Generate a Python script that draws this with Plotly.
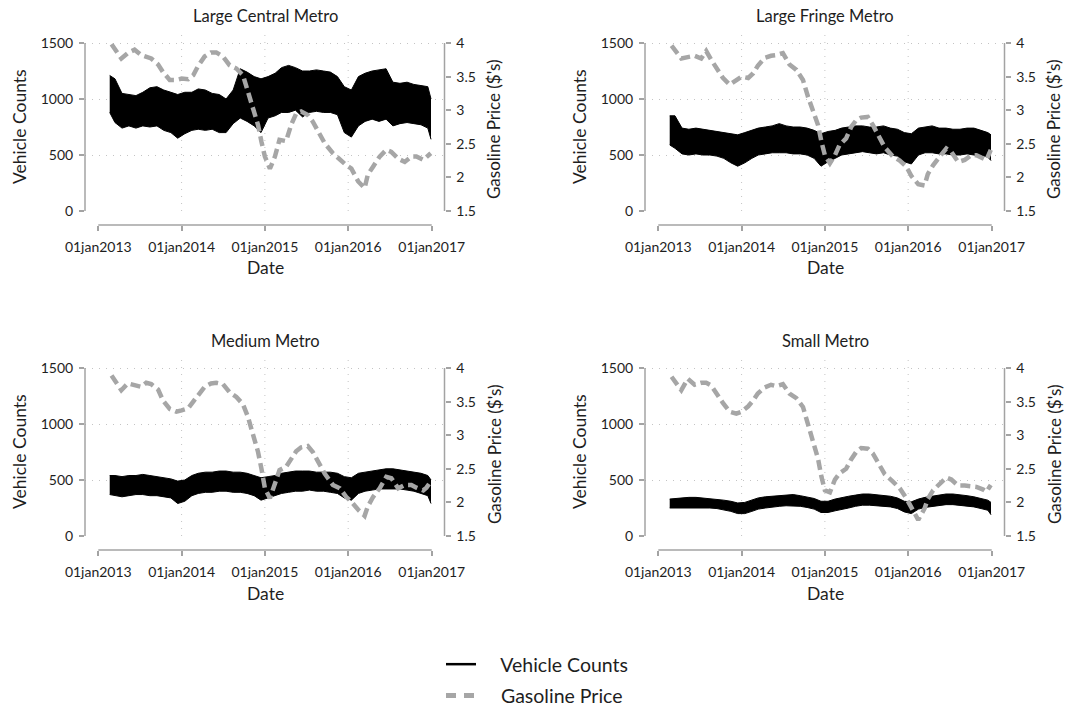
import pandas as pd
import plotly.graph_objects as go

# ---------------------------------------------------------------- data
PANEL_TITLES = ["Large Central Metro", "Large Fringe Metro", "Medium Metro", "Small Metro"]

TICK_DATES = ["2013-01-01", "2014-01-01", "2015-01-01", "2016-01-01", "2017-01-01"]
TICK_LABELS = ["01jan2013", "01jan2014", "01jan2015", "01jan2016", "01jan2017"]
COUNT_TICKS = [0, 500, 1000, 1500]
PRICE_TICKS = [1.5, 2, 2.5, 3, 3.5, 4]
PRICE_LABELS = ["1.5", "2", "2.5", "3", "3.5", "4"]

# daily vehicle counts summarised as a monthly band (upper / lower envelope)
COUNT_DATES = (
    ["2013-02-20"]
    + [f"{y}-{m:02d}-15" for y, m in
       [(2013, m) for m in range(3, 13)] + [(2014, m) for m in range(1, 13)]
       + [(2015, m) for m in range(1, 13)] + [(2016, m) for m in range(1, 13)]]
    + ["2016-12-29"]
)

lcm_upper = [1210, 1180, 1050, 1040, 1030, 1060, 1100, 1110, 1080, 1060, 1040,
             1060, 1060, 1090, 1080, 1050, 1040, 1000, 1080, 1270, 1240, 1200, 1180,
             1200, 1230, 1280, 1300, 1280, 1250, 1250, 1260, 1250, 1240, 1200, 1110,
             1080, 1200, 1230, 1250, 1260, 1270, 1150, 1140, 1150, 1130, 1120, 1110, 1000]
lcm_lower = [880, 790, 740, 760, 740, 760, 750, 760, 720, 700, 650,
             690, 720, 730, 720, 730, 700, 700, 780, 830, 800, 760, 700,
             830, 850, 880, 880, 900, 840, 880, 890, 880, 880, 860, 700,
             660, 760, 800, 820, 800, 820, 760, 780, 790, 780, 770, 740, 640]

lfm_upper = [850, 850, 740, 730, 740, 730, 720, 710, 700, 690, 680,
             700, 720, 740, 750, 760, 780, 760, 750, 750, 740, 720, 690,
             710, 720, 740, 750, 760, 760, 750, 750, 760, 740, 730, 700,
             690, 740, 750, 760, 740, 740, 730, 730, 740, 740, 720, 700, 680]
lfm_lower = [590, 560, 510, 500, 510, 500, 500, 490, 470, 430, 400,
             430, 470, 500, 510, 520, 520, 520, 510, 510, 500, 470, 400,
             440, 470, 500, 510, 520, 530, 520, 510, 520, 500, 490, 440,
             420, 500, 520, 520, 510, 510, 500, 500, 510, 500, 500, 480, 450]

mm_upper = [540, 540, 530, 540, 540, 550, 540, 530, 520, 510, 490,
            500, 540, 560, 570, 570, 580, 580, 570, 570, 560, 540, 520,
            530, 540, 560, 570, 580, 580, 580, 570, 570, 570, 560, 530,
            520, 560, 570, 580, 590, 600, 600, 590, 580, 570, 560, 540, 500]
mm_lower = [370, 360, 350, 360, 370, 370, 360, 360, 350, 340, 290,
            310, 360, 380, 390, 390, 400, 400, 390, 390, 380, 360, 320,
            340, 360, 380, 390, 400, 400, 410, 400, 400, 390, 380, 340,
            320, 380, 400, 410, 420, 420, 420, 420, 410, 400, 380, 360, 290]

sm_upper = [330, 335, 340, 345, 345, 340, 335, 330, 320, 310, 295,
            300, 320, 340, 350, 355, 365, 370, 370, 360, 350, 335, 310,
            310, 330, 345, 355, 365, 375, 375, 370, 365, 355, 340, 310,
            305, 330, 345, 355, 365, 375, 375, 370, 360, 350, 335, 320, 300]
sm_lower = [250, 250, 250, 255, 255, 255, 250, 245, 235, 220, 200,
            200, 220, 240, 250, 260, 265, 270, 270, 265, 255, 240, 210,
            210, 225, 240, 250, 265, 275, 275, 270, 265, 260, 245, 215,
            200, 240, 255, 265, 270, 280, 280, 275, 270, 260, 245, 230, 190]

# gasoline price ($ per gallon)
GAS_DATES = [
    "2013-02-28", "2013-04-12", "2013-05-10", "2013-06-09", "2013-07-08", "2013-07-30",
    "2013-08-21", "2013-09-20", "2013-10-11", "2013-11-10", "2013-12-09", "2014-01-01",
    "2014-01-30", "2014-02-21", "2014-03-13", "2014-04-12", "2014-05-10", "2014-06-02",
    "2014-07-01", "2014-07-30", "2014-08-29", "2014-09-27", "2014-10-19", "2014-11-10",
    "2014-12-02", "2014-12-17", "2015-01-01", "2015-01-23", "2015-02-14", "2015-03-06",
    "2015-04-04", "2015-04-26", "2015-05-18", "2015-06-09", "2015-07-08", "2015-07-30",
    "2015-08-21", "2015-09-20", "2015-10-26", "2015-11-25", "2015-12-24", "2016-01-15",
    "2016-02-14", "2016-03-13", "2016-03-27", "2016-04-19", "2016-05-18", "2016-06-16",
    "2016-07-08", "2016-08-07", "2016-09-05", "2016-10-04", "2016-10-26", "2016-11-25",
    "2016-12-09", "2016-12-28",
]

lcm_gas = [3.98, 3.77, 3.85, 3.90, 3.82, 3.80, 3.77, 3.68, 3.57, 3.45, 3.45, 3.47,
           3.46, 3.52, 3.65, 3.80, 3.86, 3.86, 3.80, 3.67, 3.62, 3.52, 3.28, 3.03,
           2.78, 2.53, 2.31, 2.13, 2.31, 2.56, 2.54, 2.78, 2.95, 2.98, 2.93, 2.83,
           2.68, 2.51, 2.36, 2.26, 2.18, 2.13, 1.94, 1.84, 2.04, 2.16, 2.31, 2.41,
           2.38, 2.28, 2.23, 2.31, 2.31, 2.26, 2.31, 2.36]
lfm_gas = [3.96, 3.77, 3.79, 3.81, 3.77, 3.88, 3.75, 3.60, 3.48, 3.38, 3.45, 3.50,
           3.48, 3.55, 3.66, 3.78, 3.81, 3.82, 3.85, 3.68, 3.60, 3.45, 3.20, 3.00,
           2.78, 2.53, 2.33, 2.21, 2.33, 2.48, 2.58, 2.75, 2.85, 2.89, 2.90, 2.78,
           2.65, 2.45, 2.31, 2.25, 2.16, 2.02, 1.90, 1.88, 2.05, 2.18, 2.31, 2.43,
           2.38, 2.23, 2.26, 2.33, 2.33, 2.28, 2.26, 2.41]
mm_gas = [3.89, 3.67, 3.77, 3.75, 3.72, 3.78, 3.76, 3.68, 3.52, 3.39, 3.35, 3.37,
          3.40, 3.50, 3.60, 3.72, 3.77, 3.78, 3.76, 3.64, 3.57, 3.46, 3.27, 3.02,
          2.75, 2.50, 2.21, 2.06, 2.28, 2.48, 2.53, 2.66, 2.76, 2.82, 2.84, 2.75,
          2.62, 2.43, 2.26, 2.21, 2.08, 2.01, 1.89, 1.80, 1.94, 2.08, 2.21, 2.38,
          2.36, 2.21, 2.26, 2.26, 2.22, 2.18, 2.22, 2.31]
sm_gas = [3.87, 3.67, 3.84, 3.75, 3.78, 3.78, 3.74, 3.57, 3.48, 3.35, 3.32, 3.35,
          3.43, 3.52, 3.62, 3.71, 3.75, 3.73, 3.76, 3.62, 3.55, 3.42, 3.18, 2.93,
          2.65, 2.38, 2.18, 2.15, 2.34, 2.43, 2.50, 2.64, 2.75, 2.81, 2.80, 2.73,
          2.60, 2.42, 2.31, 2.21, 2.06, 1.91, 1.74, 1.91, 2.05, 2.18, 2.28, 2.37,
          2.34, 2.25, 2.25, 2.24, 2.23, 2.19, 2.16, 2.26]

PANELS = [
    (lcm_upper, lcm_lower, lcm_gas),
    (lfm_upper, lfm_lower, lfm_gas),
    (mm_upper, mm_lower, mm_gas),
    (sm_upper, sm_lower, sm_gas),
]
for up, lo, gas in PANELS:
    assert len(up) == len(lo) == len(COUNT_DATES)
    assert len(gas) == len(GAS_DATES)

# ---------------------------------------------------------------- geometry (pixels)
W, H = 1065, 708
FONT = "Lato"
TXT = "#1e1e1e"
AXIS_GRAY = "#a3a3a3"
GRID_GRAY = "#c4c4c4"
GAS_GRAY = "#a6a6a6"

AX_L, AX_R = 85, 444.5        # left / right axis lines of the first panel
TOP, BOT = 30, 211            # plot top, value 0
Y_MAX_PX = 43                 # pixel row of 1500 / $4
X_START_PX, X_END_PX = 98.3, 431.7   # 01jan2013 / 01jan2017
XLINE = 225                   # date axis line
COL_DX = [0, 560]
ROW_DY = [0, 325]


def px(x):
    return x / W


def py(y):
    return 1 - y / H


d0, d1 = pd.Timestamp(TICK_DATES[0]), pd.Timestamp(TICK_DATES[-1])
per_day = (X_END_PX - X_START_PX) / (d1 - d0).days
x_lo = d0 - pd.Timedelta(days=(X_START_PX - AX_L) / per_day)
x_hi = d1 + pd.Timedelta(days=(AX_R - X_END_PX) / per_day)
frac = (BOT - TOP) / (BOT - Y_MAX_PX)
count_top = 1500 * frac
price_top = 1.5 + 2.5 * frac

fig = go.Figure()
layout = dict(
    width=W, height=H, autosize=False,
    margin=dict(l=0, r=0, t=0, b=0, pad=0, autoexpand=False),
    paper_bgcolor="white", plot_bgcolor="white",
    font=dict(family=FONT, color=TXT),
    showlegend=True,
)
shapes, annotations = [], []
tickfont = dict(family=FONT, size=14, color=TXT)

for i, (title, (up, lo, gas)) in enumerate(zip(PANEL_TITLES, PANELS)):
    dx = COL_DX[i % 2]
    dy = ROW_DY[i // 2]
    n = i + 1
    xr = "x" if n == 1 else f"x{n}"
    yr = "y" if n == 1 else f"y{n}"
    y2r = f"y{n + 4}"
    xkey = "xaxis" if n == 1 else f"xaxis{n}"
    ykey = "yaxis" if n == 1 else f"yaxis{n}"
    y2key = f"yaxis{n + 4}"

    layout[xkey] = dict(
        domain=[px(AX_L + dx), px(AX_R + dx)], range=[x_lo, x_hi], type="date",
        anchor="free", position=py(XLINE + dy), automargin=False,
        tickvals=TICK_DATES, ticktext=TICK_LABELS, tickfont=tickfont,
        ticks="outside", ticklen=5, tickwidth=1.5, tickcolor=AXIS_GRAY,
        ticklabelstandoff=4,
        showgrid=False, showline=False, zeroline=False, fixedrange=True,
    )
    layout[ykey] = dict(
        domain=[py(BOT + dy), py(TOP + dy)], range=[0, count_top], anchor=xr,
        automargin=False, tickvals=COUNT_TICKS, tickfont=tickfont,
        ticks="outside", ticklen=5, tickwidth=1.5, tickcolor=AXIS_GRAY,
        ticklabelstandoff=3,
        showgrid=True, gridcolor=GRID_GRAY, griddash="1px,6px", gridwidth=1,
        showline=False, zeroline=False, fixedrange=True,
    )
    layout[y2key] = dict(
        overlaying=yr, side="right", anchor=xr, range=[1.5, price_top],
        automargin=False, tickvals=PRICE_TICKS, ticktext=PRICE_LABELS, tickfont=tickfont,
        ticks="outside", ticklen=5, tickwidth=1.5, tickcolor=AXIS_GRAY,
        ticklabelstandoff=3,
        showgrid=False, showline=False, zeroline=False, fixedrange=True,
    )

    # vehicle count band
    fig.add_trace(go.Scatter(
        x=COUNT_DATES, y=lo, xaxis=xr, yaxis=yr, mode="lines",
        line=dict(color="black", width=1), showlegend=False, hoverinfo="skip",
    ))
    fig.add_trace(go.Scatter(
        x=COUNT_DATES, y=up, xaxis=xr, yaxis=yr, mode="lines",
        line=dict(color="black", width=1), fill="tonexty", fillcolor="black",
        showlegend=False, hoverinfo="skip",
    ))
    # gasoline price
    fig.add_trace(go.Scatter(
        x=GAS_DATES, y=gas, xaxis=xr, yaxis=y2r, mode="lines",
        line=dict(color=GAS_GRAY, width=4.5, dash="10px,5px"),
        showlegend=False, hoverinfo="skip",
    ))

    # vertical dotted grid at interior years
    for d in TICK_DATES[1:-1]:
        shapes.append(dict(
            type="line", xref=xr, yref=f"{yr} domain", x0=d, x1=d, y0=0, y1=1,
            line=dict(color=GRID_GRAY, width=1, dash="1px,6px"), layer="below",
        ))
    # axis lines
    shapes.append(dict(
        type="line", xref=xr, yref="paper", x0=TICK_DATES[0], x1=TICK_DATES[-1],
        y0=py(XLINE + dy), y1=py(XLINE + dy), line=dict(color=AXIS_GRAY, width=1.5),
    ))
    shapes.append(dict(
        type="line", xref=f"{xr} domain", yref=yr, x0=0, x1=0, y0=0, y1=1500,
        line=dict(color=AXIS_GRAY, width=1.5),
    ))
    shapes.append(dict(
        type="line", xref=f"{xr} domain", yref=y2r, x0=1, x1=1, y0=1.5, y1=4,
        line=dict(color=AXIS_GRAY, width=1.5),
    ))

    # titles
    mid_x = (X_START_PX + X_END_PX) / 2 + dx
    annotations.append(dict(
        text=title, x=px(mid_x), y=py(16 + dy), xref="paper", yref="paper",
        xanchor="center", yanchor="middle", showarrow=False,
        font=dict(family=FONT, size=16.5, color=TXT),
    ))
    annotations.append(dict(
        text="Date", x=px(mid_x), y=py(268 + dy), xref="paper", yref="paper",
        xanchor="center", yanchor="middle", showarrow=False,
        font=dict(family=FONT, size=17.5, color=TXT),
    ))
    annotations.append(dict(
        text="Vehicle Counts", x=px(19 + dx), y=py(127 + dy), xref="paper", yref="paper",
        xanchor="center", yanchor="middle", showarrow=False, textangle=-90,
        font=dict(family=FONT, size=17.5, color=TXT),
    ))
    annotations.append(dict(
        text="Gasoline Price ($'s)", x=px(494 + dx), y=py(129 + dy), xref="paper", yref="paper",
        xanchor="center", yanchor="middle", showarrow=False, textangle=-90,
        font=dict(family=FONT, size=17, color=TXT),
    ))

# legend entries
fig.add_trace(go.Scatter(
    x=[None], y=[None], mode="lines", name="\u00a0\u00a0\u00a0\u00a0Vehicle Counts",
    line=dict(color="black", width=2.5), legendgroup="counts",
))
fig.add_trace(go.Scatter(
    x=[None], y=[None], mode="lines", name="\u00a0\u00a0\u00a0\u00a0Gasoline Price",
    line=dict(color=GAS_GRAY, width=5, dash="10px,8px"), legendgroup="price",
))

layout["shapes"] = shapes
layout["annotations"] = annotations
layout["legend"] = dict(
    x=px(441), y=py(645), xanchor="left", yanchor="top",
    font=dict(family=FONT, size=19.5, color=TXT), bgcolor="rgba(0,0,0,0)",
    tracegroupgap=3, itemwidth=30,
)
fig.update_layout(**layout)
fig.write_html("out.html")
